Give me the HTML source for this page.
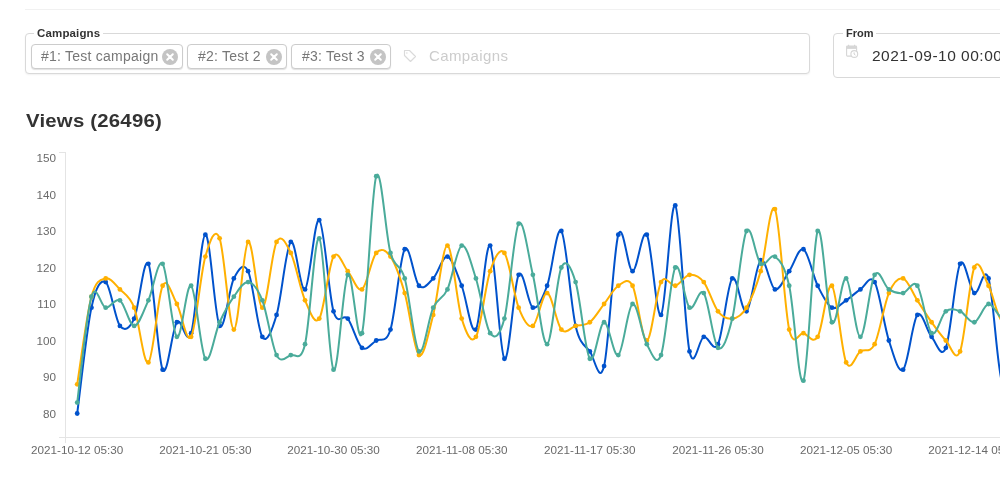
<!DOCTYPE html>
<html><head><meta charset="utf-8"><title>Views</title>
<style>
html,body{margin:0;padding:0;background:#fff;}
body{width:1000px;height:500px;overflow:hidden;position:relative;font-family:"Liberation Sans",sans-serif;color:#333;}
.hr{position:absolute;left:25px;top:9px;width:975px;height:1px;background:#f1f1f1;}
.field{position:absolute;border:1px solid #d9d9d9;border-radius:4px;box-sizing:border-box;background:#fff;}
.legend{position:absolute;top:-7px;left:8px;padding:0 3px;background:#fff;font-size:11.5px;font-weight:bold;line-height:13px;color:#333;letter-spacing:.15px;}
.chip{position:absolute;top:10px;height:25px;box-sizing:border-box;border:1px solid #ccc;border-radius:4px;box-shadow:0 1px 1px rgba(0,0,0,.12);font-size:14px;line-height:23px;color:#777;padding-left:9px;letter-spacing:.24px;white-space:nowrap;background:#fff;}
.x{position:absolute;right:4.5px;top:3.5px;width:16px;height:16px;}
.ph{position:absolute;left:403px;top:11px;font-size:15px;line-height:22px;color:#ccc;letter-spacing:.4px;}
h2{position:absolute;left:26px;top:109px;margin:0;font-size:18.5px;line-height:24px;font-weight:bold;color:#333;transform:scaleX(1.10);transform-origin:0 0;white-space:nowrap;letter-spacing:.2px}
svg.chart{position:absolute;left:0;top:0;}
svg.chart text{font-family:"Liberation Sans",sans-serif;font-size:11.7px;fill:#6a6a6a;}
</style></head><body>
<div class="hr"></div>
<div class="field" style="left:25px;top:33px;width:785px;height:41px;box-shadow:0 1px 2px rgba(0,0,0,.06)">
<span class="legend">Campaigns</span>
<div class="chip" style="left:5px;width:152px">#1: Test campaign<svg class="x" viewBox="0 0 16 16"><circle cx="8" cy="8" r="8" fill="#c4c4c4"/><path d="M5.2 5.2l5.6 5.6M10.8 5.2l-5.6 5.6" stroke="#fff" stroke-width="2" stroke-linecap="round"/></svg></div>
<div class="chip" style="left:161px;width:100px;padding-left:10px">#2: Test 2<svg class="x" viewBox="0 0 16 16"><circle cx="8" cy="8" r="8" fill="#c4c4c4"/><path d="M5.2 5.2l5.6 5.6M10.8 5.2l-5.6 5.6" stroke="#fff" stroke-width="2" stroke-linecap="round"/></svg></div>
<div class="chip" style="left:265px;width:100px;padding-left:10px">#3: Test 3<svg class="x" viewBox="0 0 16 16"><circle cx="8" cy="8" r="8" fill="#c4c4c4"/><path d="M5.2 5.2l5.6 5.6M10.8 5.2l-5.6 5.6" stroke="#fff" stroke-width="2" stroke-linecap="round"/></svg></div>
<svg style="position:absolute;left:377px;top:15px" width="14" height="14" viewBox="0 0 14 14"><path d="M1.5 1.5h5l6 6-5 5-6-6z" fill="none" stroke="#dadada" stroke-width="1.15" stroke-linejoin="round"/><circle cx="3.9" cy="3.9" r="0.75" fill="#dadada"/></svg>
<span class="ph">Campaigns</span>
</div>
<div class="field" style="left:833px;top:33px;width:200px;height:45px;">
<span class="legend" style="font-size:11px;letter-spacing:0;left:9px;padding:0 2px 0 3px">From</span>
<svg style="position:absolute;left:12px;top:10px" width="14" height="14" viewBox="0 0 14 14"><path d="M2.6 0.8v1.5M8.6 0.8v1.5" stroke="#d6d6d6" stroke-width="1.1"/><rect x="0.6" y="2.1" width="10" height="10" rx="0.8" fill="none" stroke="#d6d6d6" stroke-width="1.1"/><rect x="0.6" y="2.1" width="10" height="2.8" fill="#d6d6d6"/><circle cx="8.3" cy="10" r="3.4" fill="#fff" stroke="#d6d6d6" stroke-width="1.1"/><path d="M8.1 8.4v1.7l1.3 1" fill="none" stroke="#d0d0d0" stroke-width="1"/></svg>
<span style="position:absolute;left:38px;top:11px;font-size:15.5px;letter-spacing:.5px;line-height:22px;color:#333;white-space:nowrap">2021-09-10 00:00</span>
</div>
<h2>Views (26496)</h2>
<svg class="chart" width="1000" height="500" viewBox="0 0 1000 500">
<path d="M59 152.5H65.5M65.5 152V443M59 437.5H1000" stroke="#e4e4e4" stroke-width="1" fill="none"/>
<g><text x="56" y="417.5" text-anchor="end">80</text><text x="56" y="381.0" text-anchor="end">90</text><text x="56" y="344.5" text-anchor="end">100</text><text x="56" y="308.0" text-anchor="end">110</text><text x="56" y="271.5" text-anchor="end">120</text><text x="56" y="235.0" text-anchor="end">130</text><text x="56" y="198.5" text-anchor="end">140</text><text x="56" y="162.0" text-anchor="end">150</text></g>
<g><text x="77.2" y="454" text-anchor="middle">2021-10-12 05:30</text><text x="205.4" y="454" text-anchor="middle">2021-10-21 05:30</text><text x="333.5" y="454" text-anchor="middle">2021-10-30 05:30</text><text x="461.7" y="454" text-anchor="middle">2021-11-08 05:30</text><text x="589.8" y="454" text-anchor="middle">2021-11-17 05:30</text><text x="718.0" y="454" text-anchor="middle">2021-11-26 05:30</text><text x="846.2" y="454" text-anchor="middle">2021-12-05 05:30</text><text x="974.3" y="454" text-anchor="middle">2021-12-14 05:30</text></g>
<path d="M77.20 413.50C79.57 395.86 86.69 329.55 91.44 307.65C96.19 285.75 100.93 279.06 105.68 282.10C110.43 285.14 115.17 319.82 119.92 325.90C124.67 331.98 129.41 328.94 134.16 318.60C138.91 308.26 143.65 255.33 148.40 263.85C153.15 272.37 157.89 359.97 162.64 369.70C167.39 379.43 172.13 328.33 176.88 322.25C181.63 316.17 186.37 347.80 191.12 333.20C195.87 318.60 200.61 235.87 205.36 234.65C210.11 233.43 214.85 318.60 219.60 325.90C224.35 333.20 229.09 287.58 233.84 278.45C238.59 269.33 243.33 261.42 248.08 271.15C252.83 280.88 257.57 329.55 262.32 336.85C267.07 344.15 271.81 330.77 276.56 314.95C281.31 299.13 286.05 246.21 290.80 241.95C295.55 237.69 300.29 293.05 305.04 289.40C309.79 285.75 314.53 216.40 319.28 220.05C324.03 223.70 328.77 294.88 333.52 311.30C338.27 327.73 343.01 312.52 347.76 318.60C352.51 324.68 357.25 344.15 362.00 347.80C366.75 351.45 371.49 343.54 376.24 340.50C380.99 337.46 385.73 344.76 390.48 329.55C395.23 314.34 399.97 256.55 404.72 249.25C409.47 241.95 414.21 280.88 418.96 285.75C423.71 290.62 428.45 283.32 433.20 278.45C437.95 273.58 442.69 255.33 447.44 256.55C452.19 257.77 456.93 273.58 461.68 285.75C466.43 297.92 471.17 336.24 475.92 329.55C480.67 322.86 485.41 240.73 490.16 245.60C494.91 250.47 499.65 353.88 504.40 358.75C509.15 363.62 513.89 283.32 518.64 274.80C523.39 266.28 528.13 305.82 532.88 307.65C537.63 309.47 542.37 298.52 547.12 285.75C551.87 272.98 556.61 224.31 561.36 231.00C566.11 237.69 570.85 305.82 575.60 325.90C580.35 345.97 585.09 344.76 589.84 351.45C594.59 358.14 599.33 385.52 604.08 366.05C608.83 346.58 613.57 250.47 618.32 234.65C623.07 218.83 627.81 271.15 632.56 271.15C637.31 271.15 642.05 227.35 646.80 234.65C651.55 241.95 656.29 319.82 661.04 314.95C665.79 310.08 670.53 199.37 675.28 205.45C680.03 211.53 684.77 329.55 689.52 351.45C694.27 373.35 699.01 338.07 703.76 336.85C708.51 335.63 713.25 353.88 718.00 344.15C722.75 334.42 727.49 283.93 732.24 278.45C736.99 272.98 741.73 314.34 746.48 311.30C751.23 308.26 755.97 263.85 760.72 260.20C765.47 256.55 770.21 287.57 774.96 289.40C779.71 291.22 784.45 277.84 789.20 271.15C793.95 264.46 798.69 246.82 803.44 249.25C808.19 251.68 812.93 276.02 817.68 285.75C822.43 295.48 827.17 305.22 831.92 307.65C836.67 310.08 841.41 303.39 846.16 300.35C850.91 297.31 855.65 292.44 860.40 289.40C865.15 286.36 869.89 273.58 874.64 282.10C879.39 290.62 884.13 325.90 888.88 340.50C893.63 355.10 898.37 373.96 903.12 369.70C907.87 365.44 912.61 320.42 917.36 314.95C922.11 309.48 926.85 331.38 931.60 336.85C936.35 342.33 941.09 359.97 945.84 347.80C950.59 335.63 955.33 272.98 960.08 263.85C964.83 254.73 969.57 290.62 974.32 293.05C979.07 295.48 983.81 263.24 988.56 278.45C993.31 293.66 998.05 380.04 1002.80 384.30C1007.55 388.56 1014.67 317.38 1017.04 304.00" fill="none" stroke="#0052cc" stroke-width="2" stroke-linejoin="round"/>
<g fill="#0052cc"><circle cx="77.20" cy="413.50" r="2.4"/><circle cx="91.44" cy="307.65" r="2.4"/><circle cx="105.68" cy="282.10" r="2.4"/><circle cx="119.92" cy="325.90" r="2.4"/><circle cx="134.16" cy="318.60" r="2.4"/><circle cx="148.40" cy="263.85" r="2.4"/><circle cx="162.64" cy="369.70" r="2.4"/><circle cx="176.88" cy="322.25" r="2.4"/><circle cx="191.12" cy="333.20" r="2.4"/><circle cx="205.36" cy="234.65" r="2.4"/><circle cx="219.60" cy="325.90" r="2.4"/><circle cx="233.84" cy="278.45" r="2.4"/><circle cx="248.08" cy="271.15" r="2.4"/><circle cx="262.32" cy="336.85" r="2.4"/><circle cx="276.56" cy="314.95" r="2.4"/><circle cx="290.80" cy="241.95" r="2.4"/><circle cx="305.04" cy="289.40" r="2.4"/><circle cx="319.28" cy="220.05" r="2.4"/><circle cx="333.52" cy="311.30" r="2.4"/><circle cx="347.76" cy="318.60" r="2.4"/><circle cx="362.00" cy="347.80" r="2.4"/><circle cx="376.24" cy="340.50" r="2.4"/><circle cx="390.48" cy="329.55" r="2.4"/><circle cx="404.72" cy="249.25" r="2.4"/><circle cx="418.96" cy="285.75" r="2.4"/><circle cx="433.20" cy="278.45" r="2.4"/><circle cx="447.44" cy="256.55" r="2.4"/><circle cx="461.68" cy="285.75" r="2.4"/><circle cx="475.92" cy="329.55" r="2.4"/><circle cx="490.16" cy="245.60" r="2.4"/><circle cx="504.40" cy="358.75" r="2.4"/><circle cx="518.64" cy="274.80" r="2.4"/><circle cx="532.88" cy="307.65" r="2.4"/><circle cx="547.12" cy="285.75" r="2.4"/><circle cx="561.36" cy="231.00" r="2.4"/><circle cx="575.60" cy="325.90" r="2.4"/><circle cx="589.84" cy="351.45" r="2.4"/><circle cx="604.08" cy="366.05" r="2.4"/><circle cx="618.32" cy="234.65" r="2.4"/><circle cx="632.56" cy="271.15" r="2.4"/><circle cx="646.80" cy="234.65" r="2.4"/><circle cx="661.04" cy="314.95" r="2.4"/><circle cx="675.28" cy="205.45" r="2.4"/><circle cx="689.52" cy="351.45" r="2.4"/><circle cx="703.76" cy="336.85" r="2.4"/><circle cx="718.00" cy="344.15" r="2.4"/><circle cx="732.24" cy="278.45" r="2.4"/><circle cx="746.48" cy="311.30" r="2.4"/><circle cx="760.72" cy="260.20" r="2.4"/><circle cx="774.96" cy="289.40" r="2.4"/><circle cx="789.20" cy="271.15" r="2.4"/><circle cx="803.44" cy="249.25" r="2.4"/><circle cx="817.68" cy="285.75" r="2.4"/><circle cx="831.92" cy="307.65" r="2.4"/><circle cx="846.16" cy="300.35" r="2.4"/><circle cx="860.40" cy="289.40" r="2.4"/><circle cx="874.64" cy="282.10" r="2.4"/><circle cx="888.88" cy="340.50" r="2.4"/><circle cx="903.12" cy="369.70" r="2.4"/><circle cx="917.36" cy="314.95" r="2.4"/><circle cx="931.60" cy="336.85" r="2.4"/><circle cx="945.84" cy="347.80" r="2.4"/><circle cx="960.08" cy="263.85" r="2.4"/><circle cx="974.32" cy="293.05" r="2.4"/><circle cx="988.56" cy="278.45" r="2.4"/><circle cx="1002.80" cy="384.30" r="2.4"/></g>
<path d="M77.20 384.30C79.57 369.70 86.69 314.34 91.44 296.70C96.19 279.06 100.93 279.67 105.68 278.45C110.43 277.23 115.17 284.53 119.92 289.40C124.67 294.27 129.41 295.48 134.16 307.65C138.91 319.82 143.65 366.05 148.40 362.40C153.15 358.75 157.89 295.48 162.64 285.75C167.39 276.02 172.13 295.48 176.88 304.00C181.63 312.52 186.37 344.76 191.12 336.85C195.87 328.94 200.61 272.98 205.36 256.55C210.11 240.12 214.85 226.13 219.60 238.30C224.35 250.47 229.09 328.94 233.84 329.55C238.59 330.16 243.33 245.60 248.08 241.95C252.83 238.30 257.57 307.65 262.32 307.65C267.07 307.65 271.81 251.08 276.56 241.95C281.31 232.83 286.05 243.17 290.80 252.90C295.55 262.63 300.29 289.40 305.04 300.35C309.79 311.30 314.53 325.90 319.28 318.60C324.03 311.30 328.77 264.46 333.52 256.55C338.27 248.64 343.01 265.67 347.76 271.15C352.51 276.62 357.25 292.44 362.00 289.40C366.75 286.36 371.49 258.38 376.24 252.90C380.99 247.43 385.73 249.86 390.48 256.55C395.23 263.24 399.97 276.62 404.72 293.05C409.47 309.48 414.21 351.45 418.96 355.10C423.71 358.75 428.45 333.20 433.20 314.95C437.95 296.70 442.69 244.99 447.44 245.60C452.19 246.21 456.93 303.39 461.68 318.60C466.43 333.81 471.17 344.76 475.92 336.85C480.67 328.94 485.41 285.14 490.16 271.15C494.91 257.16 499.65 246.82 504.40 252.90C509.15 258.98 513.89 295.48 518.64 307.65C523.39 319.82 528.13 328.33 532.88 325.90C537.63 323.47 542.37 292.44 547.12 293.05C551.87 293.66 556.61 324.08 561.36 329.55C566.11 335.02 570.85 327.12 575.60 325.90C580.35 324.68 585.09 325.90 589.84 322.25C594.59 318.60 599.33 310.08 604.08 304.00C608.83 297.92 613.57 288.79 618.32 285.75C623.07 282.71 627.81 276.62 632.56 285.75C637.31 294.88 642.05 341.11 646.80 340.50C651.55 339.89 656.29 291.23 661.04 282.10C665.79 272.98 670.53 286.97 675.28 285.75C680.03 284.53 684.77 275.41 689.52 274.80C694.27 274.19 699.01 276.02 703.76 282.10C708.51 288.18 713.25 305.22 718.00 311.30C722.75 317.38 727.49 319.21 732.24 318.60C736.99 317.99 741.73 315.56 746.48 307.65C751.23 299.74 755.97 287.57 760.72 271.15C765.47 254.72 770.21 199.37 774.96 209.10C779.71 218.83 784.45 308.87 789.20 329.55C793.95 350.23 798.69 331.98 803.44 333.20C808.19 334.42 812.93 344.76 817.68 336.85C822.43 328.94 827.17 281.49 831.92 285.75C836.67 290.01 841.41 351.45 846.16 362.40C850.91 373.35 855.65 354.49 860.40 351.45C865.15 348.41 869.89 353.88 874.64 344.15C879.39 334.42 884.13 304.00 888.88 293.05C893.63 282.10 898.37 277.23 903.12 278.45C907.87 279.67 912.61 293.05 917.36 300.35C922.11 307.65 926.85 315.56 931.60 322.25C936.35 328.94 941.09 335.63 945.84 340.50C950.59 345.37 955.33 363.62 960.08 351.45C964.83 339.28 969.57 278.45 974.32 267.50C979.07 256.55 983.81 276.62 988.56 285.75C993.31 294.88 998.05 320.43 1002.80 322.25C1007.55 324.07 1014.67 300.96 1017.04 296.70" fill="none" stroke="#ffb000" stroke-width="2" stroke-linejoin="round"/>
<g fill="#ffb000"><circle cx="77.20" cy="384.30" r="2.4"/><circle cx="91.44" cy="296.70" r="2.4"/><circle cx="105.68" cy="278.45" r="2.4"/><circle cx="119.92" cy="289.40" r="2.4"/><circle cx="134.16" cy="307.65" r="2.4"/><circle cx="148.40" cy="362.40" r="2.4"/><circle cx="162.64" cy="285.75" r="2.4"/><circle cx="176.88" cy="304.00" r="2.4"/><circle cx="191.12" cy="336.85" r="2.4"/><circle cx="205.36" cy="256.55" r="2.4"/><circle cx="219.60" cy="238.30" r="2.4"/><circle cx="233.84" cy="329.55" r="2.4"/><circle cx="248.08" cy="241.95" r="2.4"/><circle cx="262.32" cy="307.65" r="2.4"/><circle cx="276.56" cy="241.95" r="2.4"/><circle cx="290.80" cy="252.90" r="2.4"/><circle cx="305.04" cy="300.35" r="2.4"/><circle cx="319.28" cy="318.60" r="2.4"/><circle cx="333.52" cy="256.55" r="2.4"/><circle cx="347.76" cy="271.15" r="2.4"/><circle cx="362.00" cy="289.40" r="2.4"/><circle cx="376.24" cy="252.90" r="2.4"/><circle cx="390.48" cy="256.55" r="2.4"/><circle cx="404.72" cy="293.05" r="2.4"/><circle cx="418.96" cy="355.10" r="2.4"/><circle cx="433.20" cy="314.95" r="2.4"/><circle cx="447.44" cy="245.60" r="2.4"/><circle cx="461.68" cy="318.60" r="2.4"/><circle cx="475.92" cy="336.85" r="2.4"/><circle cx="490.16" cy="271.15" r="2.4"/><circle cx="504.40" cy="252.90" r="2.4"/><circle cx="518.64" cy="307.65" r="2.4"/><circle cx="532.88" cy="325.90" r="2.4"/><circle cx="547.12" cy="293.05" r="2.4"/><circle cx="561.36" cy="329.55" r="2.4"/><circle cx="575.60" cy="325.90" r="2.4"/><circle cx="589.84" cy="322.25" r="2.4"/><circle cx="604.08" cy="304.00" r="2.4"/><circle cx="618.32" cy="285.75" r="2.4"/><circle cx="632.56" cy="285.75" r="2.4"/><circle cx="646.80" cy="340.50" r="2.4"/><circle cx="661.04" cy="282.10" r="2.4"/><circle cx="675.28" cy="285.75" r="2.4"/><circle cx="689.52" cy="274.80" r="2.4"/><circle cx="703.76" cy="282.10" r="2.4"/><circle cx="718.00" cy="311.30" r="2.4"/><circle cx="732.24" cy="318.60" r="2.4"/><circle cx="746.48" cy="307.65" r="2.4"/><circle cx="760.72" cy="271.15" r="2.4"/><circle cx="774.96" cy="209.10" r="2.4"/><circle cx="789.20" cy="329.55" r="2.4"/><circle cx="803.44" cy="333.20" r="2.4"/><circle cx="817.68" cy="336.85" r="2.4"/><circle cx="831.92" cy="285.75" r="2.4"/><circle cx="846.16" cy="362.40" r="2.4"/><circle cx="860.40" cy="351.45" r="2.4"/><circle cx="874.64" cy="344.15" r="2.4"/><circle cx="888.88" cy="293.05" r="2.4"/><circle cx="903.12" cy="278.45" r="2.4"/><circle cx="917.36" cy="300.35" r="2.4"/><circle cx="931.60" cy="322.25" r="2.4"/><circle cx="945.84" cy="340.50" r="2.4"/><circle cx="960.08" cy="351.45" r="2.4"/><circle cx="974.32" cy="267.50" r="2.4"/><circle cx="988.56" cy="285.75" r="2.4"/><circle cx="1002.80" cy="322.25" r="2.4"/></g>
<path d="M77.20 402.55C79.57 384.91 86.69 312.52 91.44 296.70C96.19 280.88 100.93 307.04 105.68 307.65C110.43 308.26 115.17 297.31 119.92 300.35C124.67 303.39 129.41 325.90 134.16 325.90C138.91 325.90 143.65 310.69 148.40 300.35C153.15 290.01 157.89 257.77 162.64 263.85C167.39 269.93 172.13 333.20 176.88 336.85C181.63 340.50 186.37 282.10 191.12 285.75C195.87 289.40 200.61 352.67 205.36 358.75C210.11 364.83 214.85 332.59 219.60 322.25C224.35 311.91 229.09 303.39 233.84 296.70C238.59 290.01 243.33 281.49 248.08 282.10C252.83 282.71 257.57 288.18 262.32 300.35C267.07 312.52 271.81 345.98 276.56 355.10C281.31 364.23 286.05 356.93 290.80 355.10C295.55 353.28 300.29 363.62 305.04 344.15C309.79 324.68 314.53 234.04 319.28 238.30C324.03 242.56 328.77 363.62 333.52 369.70C338.27 375.78 343.01 280.88 347.76 274.80C352.51 268.72 357.25 349.62 362.00 333.20C366.75 316.77 371.49 189.63 376.24 176.25C380.99 162.87 385.73 235.87 390.48 252.90C395.23 269.93 399.97 262.03 404.72 278.45C409.47 294.88 414.21 346.58 418.96 351.45C423.71 356.32 428.45 317.99 433.20 307.65C437.95 297.31 442.69 299.74 447.44 289.40C452.19 279.06 456.93 247.42 461.68 245.60C466.43 243.78 471.17 263.85 475.92 278.45C480.67 293.05 485.41 326.51 490.16 333.20C494.91 339.89 499.65 336.85 504.40 318.60C509.15 300.35 513.89 231.00 518.64 223.70C523.39 216.40 528.13 254.73 532.88 274.80C537.63 294.88 542.37 345.37 547.12 344.15C551.87 342.93 556.61 277.84 561.36 267.50C566.11 257.16 570.85 266.89 575.60 282.10C580.35 297.31 585.09 352.06 589.84 358.75C594.59 365.44 599.33 322.86 604.08 322.25C608.83 321.64 613.57 358.14 618.32 355.10C623.07 352.06 627.81 305.82 632.56 304.00C637.31 302.18 642.05 335.63 646.80 344.15C651.55 352.67 656.29 367.88 661.04 355.10C665.79 342.33 670.53 275.41 675.28 267.50C680.03 259.59 684.77 303.39 689.52 307.65C694.27 311.91 699.01 286.36 703.76 293.05C708.51 299.74 713.25 343.54 718.00 347.80C722.75 352.06 727.49 338.07 732.24 318.60C736.99 299.13 741.73 240.12 746.48 231.00C751.23 221.88 755.97 259.59 760.72 263.85C765.47 268.11 770.21 252.90 774.96 256.55C779.71 260.20 784.45 265.07 789.20 285.75C793.95 306.43 798.69 389.77 803.44 380.65C808.19 371.52 812.93 240.73 817.68 231.00C822.43 221.27 827.17 314.34 831.92 322.25C836.67 330.16 841.41 276.02 846.16 278.45C850.91 280.88 855.65 337.46 860.40 336.85C865.15 336.24 869.89 282.71 874.64 274.80C879.39 266.89 884.13 286.36 888.88 289.40C893.63 292.44 898.37 293.66 903.12 293.05C907.87 292.44 912.61 279.06 917.36 285.75C922.11 292.44 926.85 328.94 931.60 333.20C936.35 337.46 941.09 314.95 945.84 311.30C950.59 307.65 955.33 309.48 960.08 311.30C964.83 313.12 969.57 323.47 974.32 322.25C979.07 321.03 983.81 304.61 988.56 304.00C993.31 303.39 998.05 317.38 1002.80 318.60C1007.55 319.82 1014.67 312.52 1017.04 311.30" fill="none" stroke="#4aab9a" stroke-width="2" stroke-linejoin="round"/>
<g fill="#4aab9a"><circle cx="77.20" cy="402.55" r="2.4"/><circle cx="91.44" cy="296.70" r="2.4"/><circle cx="105.68" cy="307.65" r="2.4"/><circle cx="119.92" cy="300.35" r="2.4"/><circle cx="134.16" cy="325.90" r="2.4"/><circle cx="148.40" cy="300.35" r="2.4"/><circle cx="162.64" cy="263.85" r="2.4"/><circle cx="176.88" cy="336.85" r="2.4"/><circle cx="191.12" cy="285.75" r="2.4"/><circle cx="205.36" cy="358.75" r="2.4"/><circle cx="219.60" cy="322.25" r="2.4"/><circle cx="233.84" cy="296.70" r="2.4"/><circle cx="248.08" cy="282.10" r="2.4"/><circle cx="262.32" cy="300.35" r="2.4"/><circle cx="276.56" cy="355.10" r="2.4"/><circle cx="290.80" cy="355.10" r="2.4"/><circle cx="305.04" cy="344.15" r="2.4"/><circle cx="319.28" cy="238.30" r="2.4"/><circle cx="333.52" cy="369.70" r="2.4"/><circle cx="347.76" cy="274.80" r="2.4"/><circle cx="362.00" cy="333.20" r="2.4"/><circle cx="376.24" cy="176.25" r="2.4"/><circle cx="390.48" cy="252.90" r="2.4"/><circle cx="404.72" cy="278.45" r="2.4"/><circle cx="418.96" cy="351.45" r="2.4"/><circle cx="433.20" cy="307.65" r="2.4"/><circle cx="447.44" cy="289.40" r="2.4"/><circle cx="461.68" cy="245.60" r="2.4"/><circle cx="475.92" cy="278.45" r="2.4"/><circle cx="490.16" cy="333.20" r="2.4"/><circle cx="504.40" cy="318.60" r="2.4"/><circle cx="518.64" cy="223.70" r="2.4"/><circle cx="532.88" cy="274.80" r="2.4"/><circle cx="547.12" cy="344.15" r="2.4"/><circle cx="561.36" cy="267.50" r="2.4"/><circle cx="575.60" cy="282.10" r="2.4"/><circle cx="589.84" cy="358.75" r="2.4"/><circle cx="604.08" cy="322.25" r="2.4"/><circle cx="618.32" cy="355.10" r="2.4"/><circle cx="632.56" cy="304.00" r="2.4"/><circle cx="646.80" cy="344.15" r="2.4"/><circle cx="661.04" cy="355.10" r="2.4"/><circle cx="675.28" cy="267.50" r="2.4"/><circle cx="689.52" cy="307.65" r="2.4"/><circle cx="703.76" cy="293.05" r="2.4"/><circle cx="718.00" cy="347.80" r="2.4"/><circle cx="732.24" cy="318.60" r="2.4"/><circle cx="746.48" cy="231.00" r="2.4"/><circle cx="760.72" cy="263.85" r="2.4"/><circle cx="774.96" cy="256.55" r="2.4"/><circle cx="789.20" cy="285.75" r="2.4"/><circle cx="803.44" cy="380.65" r="2.4"/><circle cx="817.68" cy="231.00" r="2.4"/><circle cx="831.92" cy="322.25" r="2.4"/><circle cx="846.16" cy="278.45" r="2.4"/><circle cx="860.40" cy="336.85" r="2.4"/><circle cx="874.64" cy="274.80" r="2.4"/><circle cx="888.88" cy="289.40" r="2.4"/><circle cx="903.12" cy="293.05" r="2.4"/><circle cx="917.36" cy="285.75" r="2.4"/><circle cx="931.60" cy="333.20" r="2.4"/><circle cx="945.84" cy="311.30" r="2.4"/><circle cx="960.08" cy="311.30" r="2.4"/><circle cx="974.32" cy="322.25" r="2.4"/><circle cx="988.56" cy="304.00" r="2.4"/><circle cx="1002.80" cy="318.60" r="2.4"/></g>
</svg>
</body></html>
